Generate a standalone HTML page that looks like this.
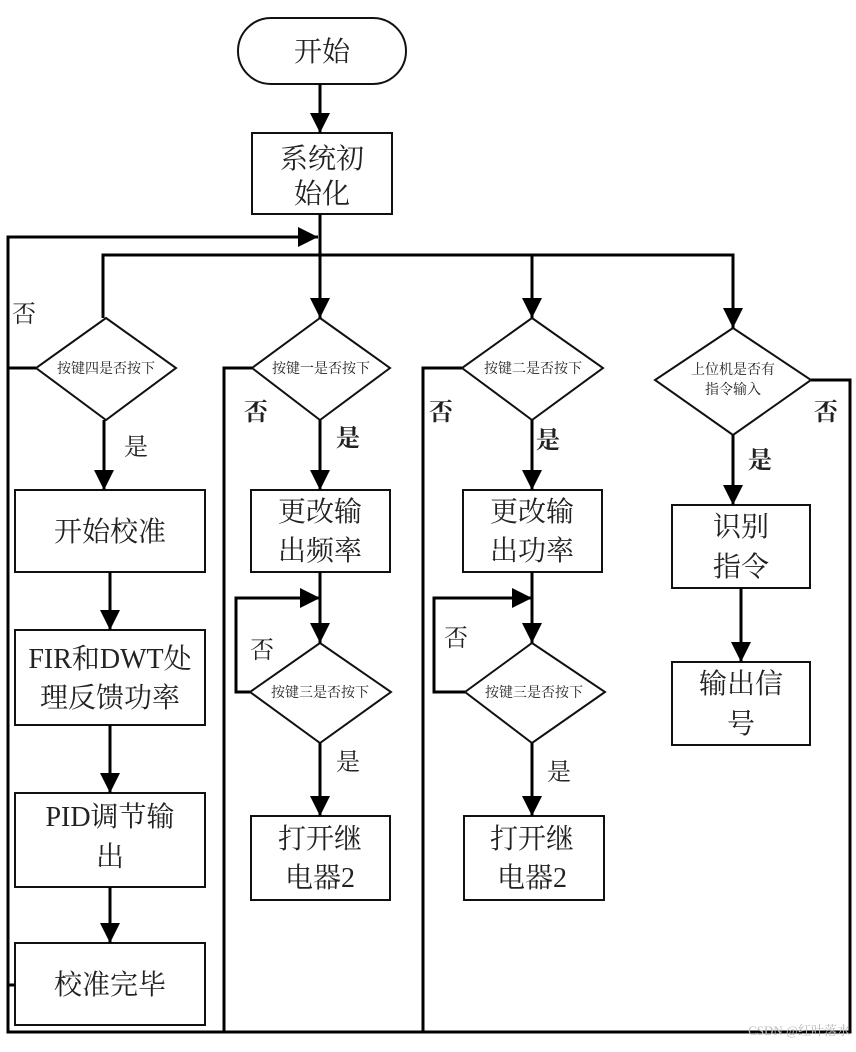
<!DOCTYPE html>
<html><head><meta charset="utf-8"><style>
html,body{margin:0;padding:0;background:#fff;}
svg text{font-family:"Liberation Serif","Noto Serif CJK SC",serif;fill:#222;}
</style></head><body>
<svg width="856" height="1047" viewBox="0 0 856 1047" xmlns="http://www.w3.org/2000/svg">
<defs>
<marker id="b" viewBox="0 0 20 20" markerWidth="20" markerHeight="20" refX="20" refY="10" orient="auto" markerUnits="userSpaceOnUse"><path d="M0,0 L20,10 L0,20 z" fill="#000"/></marker></defs>
<g fill="none" stroke="#111" stroke-width="2">
<rect x="238" y="18" width="168" height="66" rx="33"/>
<rect x="252" y="133" width="140" height="81"/>
<polygon points="106,318 176,368 106,420 36,368"/>
<rect x="15" y="490" width="190" height="82"/>
<rect x="15" y="630" width="190" height="95"/>
<rect x="15" y="793" width="190" height="94"/>
<rect x="15" y="943" width="190" height="82"/>
<polygon points="320,318 390,368 320,420 252,368"/>
<rect x="251" y="490" width="139" height="82"/>
<polygon points="320,643 391,692 320,743 250,692"/>
<rect x="251" y="816" width="139" height="84"/>
<polygon points="532,318 603,368 532,420 462,368"/>
<rect x="463" y="490" width="139" height="82"/>
<polygon points="532,643 605,692 532,743 465,692"/>
<rect x="464" y="816" width="140" height="84"/>
<polygon points="733,328 811,380 733,435 655,380"/>
<rect x="672" y="505" width="138" height="83"/>
<rect x="672" y="662" width="138" height="83"/>
</g>
<g fill="none" stroke="#000" stroke-width="3">
<line x1="320" y1="84" x2="320" y2="133" marker-end="url(#b)"/>
<line x1="320" y1="214" x2="320" y2="318" marker-end="url(#b)"/>
<polyline points="103,318 103,255 733,255 733,328" marker-end="url(#b)"/>
<polyline points="532,255 532,318" marker-end="url(#b)"/>
<polyline points="36,368 8,368 8,237 318,237" marker-end="url(#b)"/>
<polyline points="8,368 8,1032 850,1032 850,380 811,380"/>
<line x1="8" y1="985" x2="15" y2="985"/>
<polyline points="252,368 224,368 224,1032"/>
<polyline points="462,368 423,368 423,1032"/>
<line x1="104" y1="420" x2="104" y2="490" marker-end="url(#b)"/>
<line x1="110" y1="572" x2="110" y2="630" marker-end="url(#b)"/>
<line x1="110" y1="725" x2="110" y2="793" marker-end="url(#b)"/>
<line x1="110" y1="887" x2="110" y2="943" marker-end="url(#b)"/>
<line x1="320" y1="420" x2="320" y2="490" marker-end="url(#b)"/>
<line x1="320" y1="572" x2="320" y2="643" marker-end="url(#b)"/>
<polyline points="250,692 236,692 236,598 320,598" marker-end="url(#b)"/>
<line x1="320" y1="743" x2="320" y2="816" marker-end="url(#b)"/>
<line x1="532" y1="420" x2="532" y2="490" marker-end="url(#b)"/>
<line x1="532" y1="572" x2="532" y2="643" marker-end="url(#b)"/>
<polyline points="465,692 434,692 434,598 532,598" marker-end="url(#b)"/>
<line x1="532" y1="743" x2="532" y2="816" marker-end="url(#b)"/>
<line x1="733" y1="435" x2="733" y2="505" marker-end="url(#b)"/>
<line x1="741" y1="588" x2="741" y2="662" marker-end="url(#b)"/>
</g>
<g font-size="28" text-anchor="middle">
<text x="322" y="61">开始</text>
<text x="322" y="168">系统初</text><text x="322" y="203">始化</text>
<text x="110" y="541">开始校准</text>
<text x="110" y="668">FIR和DWT处</text><text x="110" y="707">理反馈功率</text>
<text x="110" y="826">PID调节输</text><text x="110" y="866">出</text>
<text x="110" y="994">校准完毕</text>
<text x="320" y="521">更改输</text><text x="320" y="560">出频率</text>
<text x="320" y="848">打开继</text><text x="320" y="887">电器2</text>
<text x="532" y="521">更改输</text><text x="532" y="560">出功率</text>
<text x="532" y="848">打开继</text><text x="532" y="887">电器2</text>
<text x="741" y="536">识别</text><text x="741" y="576">指令</text>
<text x="741" y="693">输出信</text><text x="741" y="733">号</text>
</g>
<g font-size="14" text-anchor="middle">
<text x="106" y="373">按键四是否按下</text>
<text x="321" y="373">按键一是否按下</text>
<text x="533" y="373">按键二是否按下</text>
<text x="733" y="374">上位机是否有</text><text x="733" y="394">指令输入</text>
<text x="320" y="697">按键三是否按下</text>
<text x="534" y="697">按键三是否按下</text>
</g>
<g font-size="24">
<text x="12" y="322">否</text>
<text x="124" y="455">是</text>
<text x="244" y="420" font-weight="bold">否</text>
<text x="336" y="446" font-weight="bold">是</text>
<text x="429" y="420" font-weight="bold">否</text>
<text x="536" y="448" font-weight="bold">是</text>
<text x="814" y="420" font-weight="bold">否</text>
<text x="748" y="468" font-weight="bold">是</text>
<text x="250" y="658">否</text>
<text x="336" y="770">是</text>
<text x="444" y="646">否</text>
<text x="547" y="780">是</text>
</g>
<text x="850" y="1035" font-size="13" text-anchor="end" style="fill:#bbb">CSDN @红叶落水</text>
</svg>
</body></html>
